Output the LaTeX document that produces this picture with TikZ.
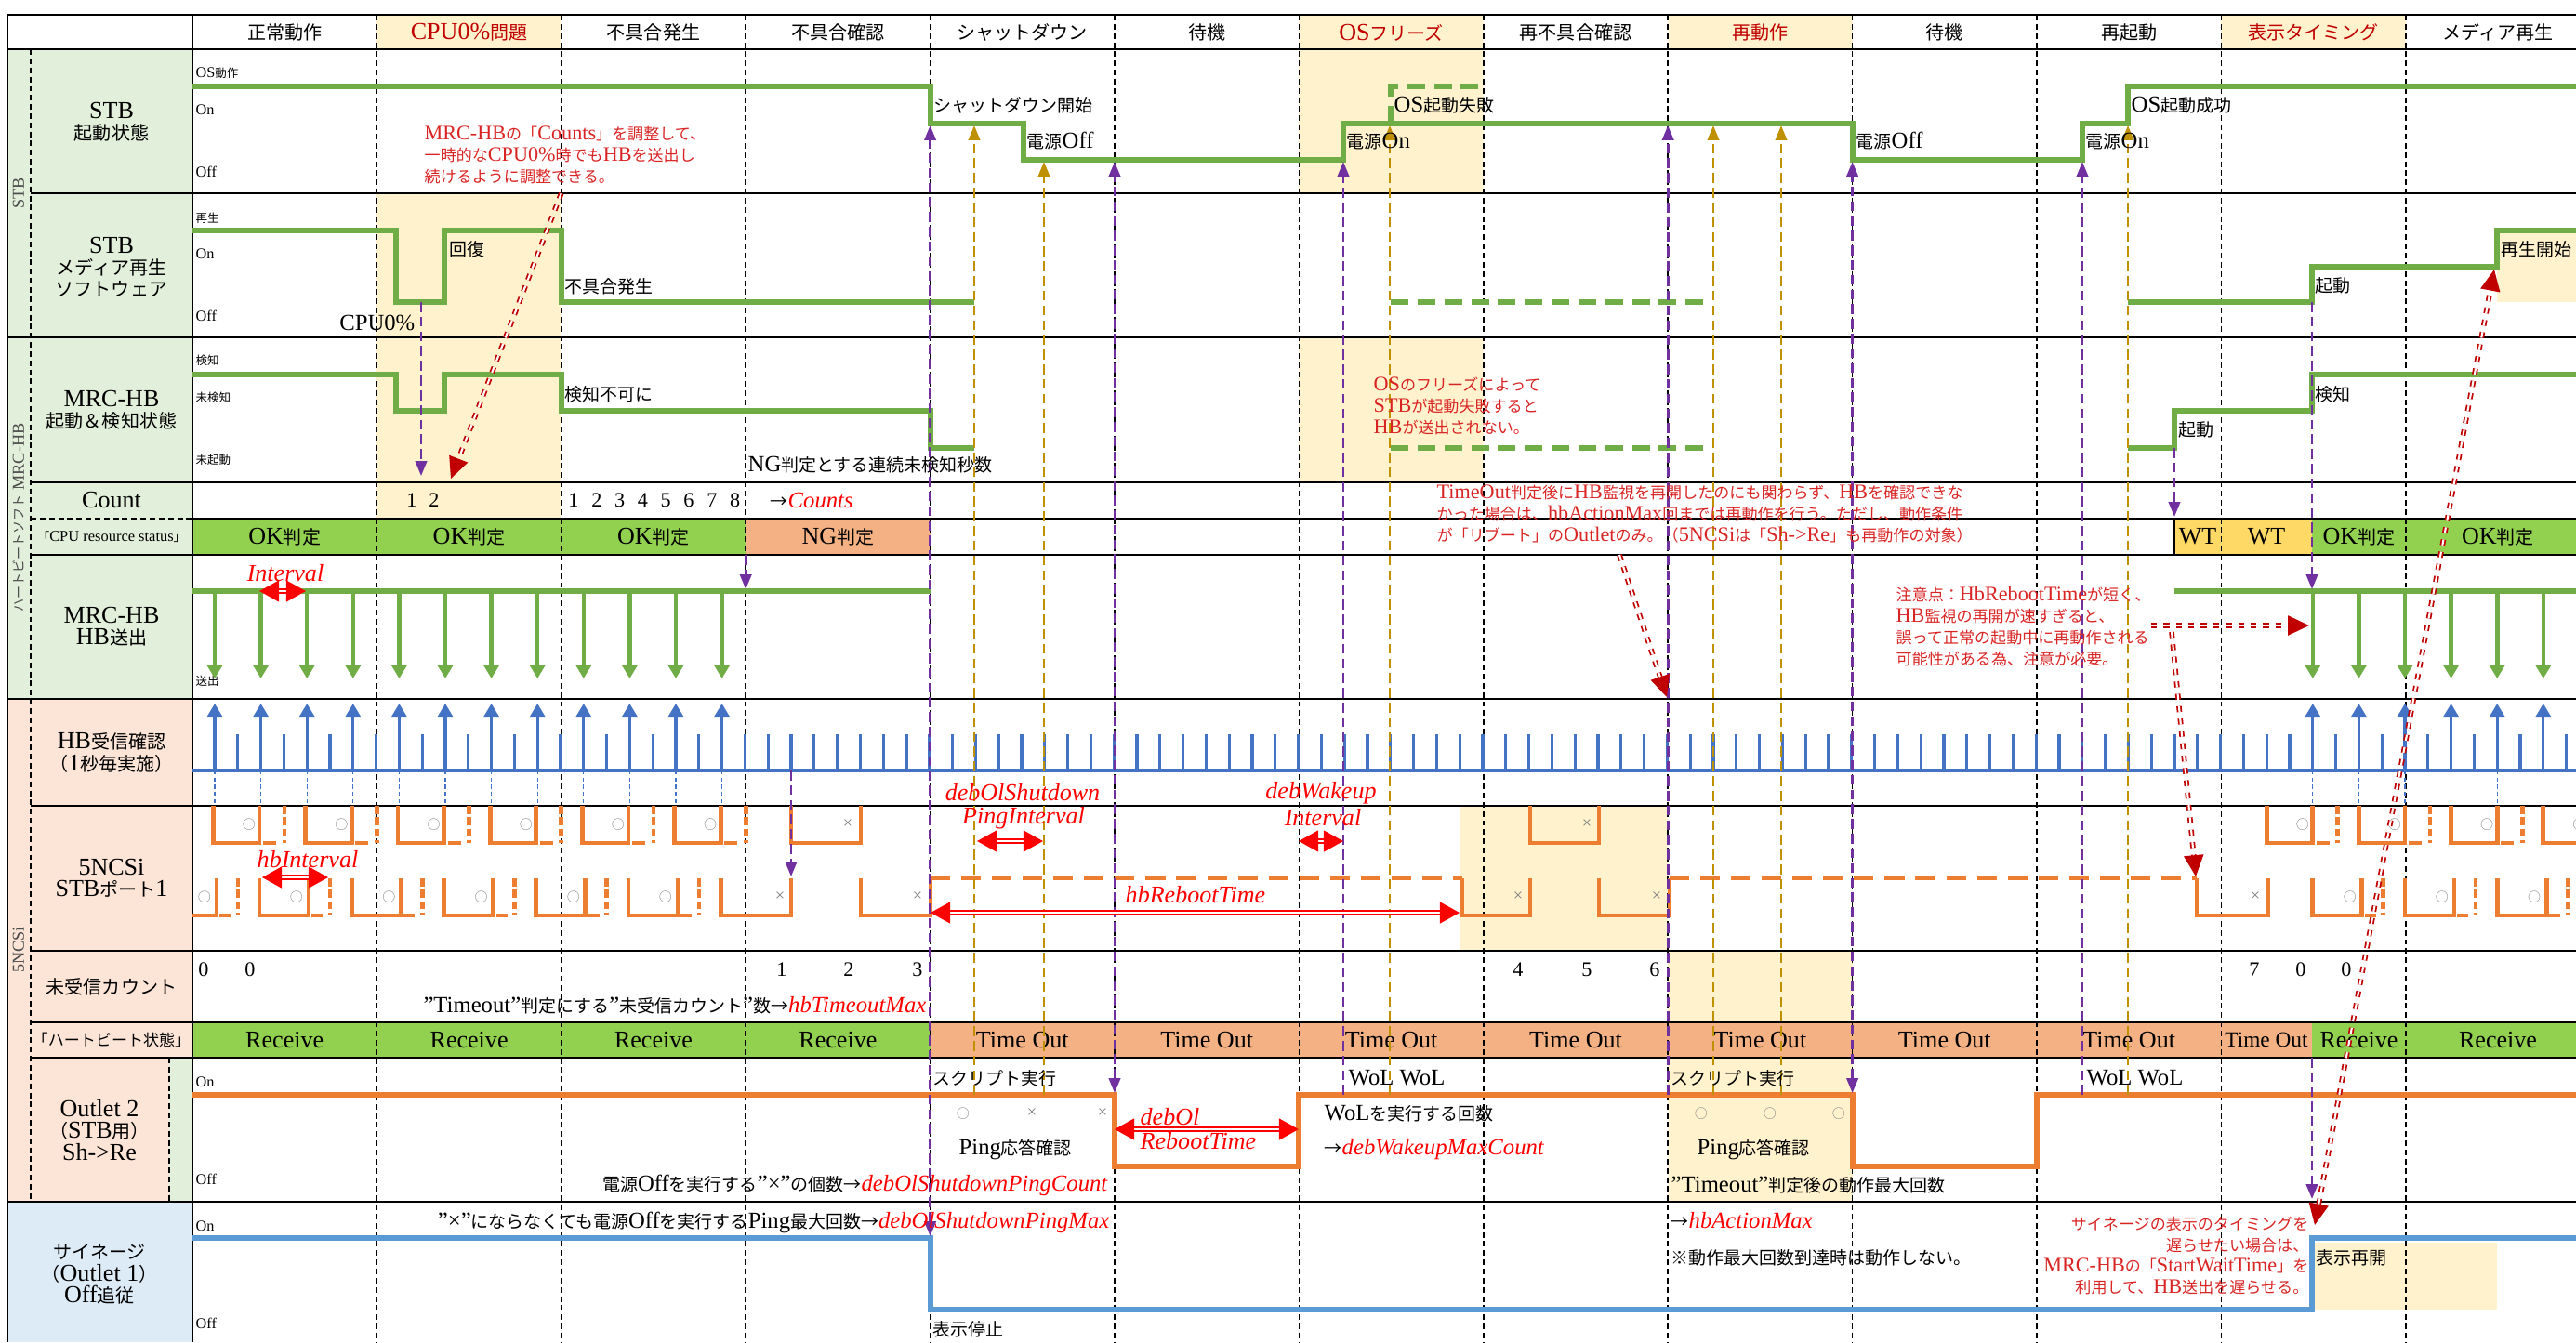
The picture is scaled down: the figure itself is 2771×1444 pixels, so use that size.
\documentclass[tikz,border=0pt]{standalone}
\usepackage{fontspec}
\setmainfont{Liberation Serif}[Scale=1.3]
\newfontfamily\jpfont{Noto Sans CJK JP}
\usetikzlibrary{arrows.meta}

% Japanese characters go to the CJK face, the rest stays serif
\ifdefined\newXeTeXintercharclass
  \newXeTeXintercharclass\jpclass
\else
  \chardef\jpclass=10
\fi
\newcount\jpchar
\newcommand\jprange[2]{\jpchar=#1\relax
  \loop\ifnum\jpchar<#2\relax
    \XeTeXcharclass\jpchar=\jpclass
    \advance\jpchar by 1
  \repeat}
\jprange{"3000}{"3100}
\jprange{"4E00}{"A000}
\jprange{"FF00}{"FFF0}
\XeTeXcharclass"2192=\jpclass
\XeTeXcharclass"25CB=\jpclass
\XeTeXcharclass"203B=\jpclass
\XeTeXinterchartoks 0 \jpclass={\jpfont}
\XeTeXinterchartoks 4095 \jpclass={\jpfont}
\XeTeXinterchartoks \jpclass 0={\rmfamily}
\XeTeXinterchartoks \jpclass 4095={\rmfamily}
\XeTeXinterchartokenstate=1

\definecolor{sgreen}{HTML}{70AD47}
\definecolor{sorange}{HTML}{ED7D31}
\definecolor{tickblue}{HTML}{4472C4}
\definecolor{signblue}{HTML}{5B9BD5}
\definecolor{evpurple}{HTML}{7030A0}
\definecolor{evgold}{HTML}{BF9000}
\definecolor{okgreen}{HTML}{92D050}
\definecolor{ngorange}{HTML}{F4B183}
\definecolor{wtyellow}{HTML}{FFD966}
\definecolor{paleyellow}{HTML}{FFF2CC}
\definecolor{grpgreen}{HTML}{E2EFDA}
\definecolor{grppeach}{HTML}{FCE4D6}
\definecolor{grpblue}{HTML}{DDEBF7}
\definecolor{hintred}{HTML}{C00000}
\definecolor{notered}{HTML}{D92424}
\definecolor{markgray}{HTML}{7F7F7F}

% parameter names
\newcommand\prm[1]{{\rmfamily\itshape\color{red}#1}}

\tikzset{
  hdr/.style={font=\fontsize{5.7pt}{6.6pt}\selectfont, inner sep=0pt},
  lbl/.style={font=\fontsize{5.7pt}{6.6pt}\selectfont, align=center, inner sep=0pt},
  grp/.style={font=\fontsize{4pt}{4.5pt}\selectfont, text=black!70, rotate=90, inner sep=0pt},
  lvl/.style={font=\fontsize{3.55pt}{4pt}\selectfont, anchor=west, inner sep=0pt},
  info/.style={font=\fontsize{5.4pt}{6.4pt}\selectfont, anchor=west, inner sep=0pt},
  note/.style={font=\fontsize{4.85pt}{6.5pt}\selectfont, text=notered, align=left, anchor=west, inner sep=0pt},
  num/.style={font=\fontsize{4.85pt}{5.5pt}\selectfont, inner sep=0pt},
  pingmark/.style={font=\fontsize{4pt}{4.5pt}\selectfont, text=markgray, inner sep=0pt},
  cell/.style={font=\fontsize{5.7pt}{6.6pt}\selectfont, inner sep=0pt},
  prmlbl/.style={font=\fontsize{5.7pt}{6.6pt}\selectfont, inner sep=0pt},
  rowline/.style={draw=black, line width=0.7pt},
  coldash/.style={draw=black, line width=0.45pt, dash pattern=on 1.7pt off 1.1pt},
  stbline/.style={draw=sgreen, line width=1.7pt},
  stbdash/.style={stbline, dash pattern=on 5.4pt off 2.8pt},
  hbsend/.style={draw=sgreen, line width=1.3pt, -{Triangle[length=4pt,width=4.5pt]}},
  rtick/.style={draw=tickblue, line width=0.9pt},
  hbrecv/.style={rtick, -{Triangle[length=4pt,width=4.5pt]}},
  link/.style={draw=tickblue, line width=0.35pt, dash pattern=on 1.2pt off 1pt},
  pulse/.style={draw=sorange, line width=1.4pt},
  pulsetail/.style={pulse, dash pattern=on 2.5pt off 1pt},
  pulsedash/.style={pulse, dash pattern=on 6pt off 3.4pt},
  outlet/.style={draw=sorange, line width=1.7pt},
  signage/.style={draw=signblue, line width=1.7pt},
  evp/.style={draw=evpurple, line width=0.75pt, dash pattern=on 3pt off 1.5pt},
  evg/.style={draw=evgold, line width=0.75pt, dash pattern=on 3pt off 1.5pt},
  evtip/.style={-{Triangle[length=4.5pt,width=3.5pt]}},
  evtips/.style={{Triangle[length=4.5pt,width=3.5pt]}-{Triangle[length=4.5pt,width=3.5pt]}},
  span/.style={draw=red, line width=0.55pt, double=white, double distance=0.7pt,
    {Triangle[length=6pt,width=6.5pt]}-{Triangle[length=6pt,width=6.5pt]}},
  hint/.style={draw=hintred, line width=0.5pt, double=white, double distance=0.6pt,
    dash pattern=on 1.8pt off 2pt, -{Triangle[length=6.5pt,width=6pt]}},
  hints/.style={hint, {Triangle[length=6.5pt,width=6pt]}-{Triangle[length=6.5pt,width=6pt]}},
}

\begin{document}
\begin{tikzpicture}[x=0.01cm, y=-0.01cm]
	\useasboundingbox (0,0) rectangle (2771,1444);
	\clip (0,0) rectangle (2771,1444);
	
	% label column
	\fill[grpgreen] (8,53) rectangle (207,752);
	\fill[grppeach] (8,752) rectangle (207,1293);
	\fill[grpgreen] (182,1138) rectangle (207,1293);
	\fill[grpblue] (8,1293) rectangle (207,1444);
	
	% highlighted phases
	\foreach \i in {1,6,8,11}
		\fill[paleyellow] ({207+198.4*\i},16) rectangle ({405.4+198.4*\i},53);
	\fill[paleyellow] (405.4,208) rectangle (603.8,558);
	\fill[paleyellow] (1397.4,53) rectangle (1595.8,208);
	\fill[paleyellow] (1397.4,363) rectangle (1595.8,519);
	\fill[paleyellow] (1570,867) rectangle (1794.2,1023);
	\fill[paleyellow] (1794.2,1023) rectangle (1992.6,1100);
	\fill[paleyellow] (1794.2,1138) rectangle (1992.6,1293);
	\fill[paleyellow] (2686,248) rectangle (2771,325);
	\fill[paleyellow] (2487,1337) rectangle (2686,1410);
	
	% CPU resource status
	\foreach \i in {0,1,2} {
		\fill[okgreen] ({207+198.4*\i},558) rectangle ({405.4+198.4*\i},597);
		\node[cell] (ok\i) at ({306.2+198.4*\i},577.5) {OK判定};
	}
	\fill[ngorange] (802.2,558) rectangle (1000.6,597);
	\node[cell] (ng) at (901.4,577.5) {NG判定};
	\fill[wtyellow] (2339,558) rectangle (2487,597);
	\draw[rowline] (2339,558) -- (2339,597);
	\node[cell] (wt1) at (2364,577.5) {WT};
	\node[cell] (wt2) at (2438,577.5) {WT};
	\fill[okgreen] (2487,558) rectangle (2771,597);
	\node[cell] (ok3) at (2537.5,577.5) {OK判定};
	\node[cell] (ok4) at (2687,577.5) {OK判定};
	
	% heartbeat state
	\foreach \i in {0,...,3} {
		\fill[okgreen] ({207+198.4*\i},1100) rectangle ({405.4+198.4*\i},1138);
		\node[cell] (rc\i) at ({306.2+198.4*\i},1119) {Receive};
	}
	\foreach \i in {4,...,10} {
		\fill[ngorange] ({207+198.4*\i},1100) rectangle ({405.4+198.4*\i},1138);
		\node[cell] (to\i) at ({306.2+198.4*\i},1119) {Time Out};
	}
	\fill[ngorange] (2389.4,1100) rectangle (2487,1138);
	\node[cell, font=\fontsize{5.1pt}{6pt}\selectfont] (to11) at (2438,1119) {Time Out};
	\fill[okgreen] (2487,1100) rectangle (2771,1138);
	\node[cell] (rc4) at (2537.5,1119) {Receive};
	\node[cell] (rc5) at (2687,1119) {Receive};
	
	% grid
	\foreach \y in {16,53,363,752,1293}
		\draw[rowline] (8,\y) -- (2771,\y);
	\foreach \y in {208,519,597,867,1023,1100,1138}
		\draw[rowline] (33,\y) -- (2771,\y);
	\draw[rowline] (207,558) -- (2771,558);
	\draw[coldash] (33,558) -- (207,558);
	\draw[rowline] (8,16) -- (8,1444);
	\draw[rowline] (207,16) -- (207,1444);
	\draw[coldash] (33,53) -- (33,1293);
	\draw[coldash] (182,1138) -- (182,1293);
	\foreach \i in {1,...,12}
		\draw[coldash] ({207+198.4*\i},16) -- ({207+198.4*\i},1444);
	
	% phase headers
	\foreach \t/\c [count=\i from 0] in {正常動作/black,CPU0\%問題/hintred,不具合発生/black,不具合確認/black,シャットダウン/black,待機/black,OSフリーズ/hintred,再不具合確認/black,再動作/hintred,待機/black,再起動/black,表示タイミング/hintred,メディア再生/black}
		\node[hdr, text=\c] (hd\i) at ({306.2+198.4*\i},35) {\t};
	
	% row titles
	\node[grp] (g-stb) at (20,208) {STB};
	\node[grp] (g-mrc) at (20,557) {ハートビートソフト MRC-HB};
	\node[grp] (g-ncsi) at (20,1022) {5NCSi};
	\node[lbl] (t-stb) at (120,131) {STB\\起動状態};
	\node[lbl] (t-media) at (120,287) {STB\\メディア再生\\ソフトウェア};
	\node[lbl] (t-mrc) at (120,441) {MRC-HB\\起動＆検知状態};
	\node[lbl] (t-count) at (120,538) {Count};
	\node[lbl, font=\fontsize{3.6pt}{4pt}\selectfont] (t-cpu) at (120,577.5) {「CPU resource status」};
	\node[lbl] (t-send) at (120,674) {MRC-HB\\HB送出};
	\node[lbl] (t-recv) at (120,810) {HB受信確認\\（1秒毎実施）};
	\node[lbl] (t-ncsi) at (120,945) {5NCSi\\STBポート1};
	\node[lbl] (t-miss) at (120,1062) {未受信カウント};
	\node[lbl, font=\fontsize{4.85pt}{5.5pt}\selectfont] (t-hb) at (120,1119) {「ハートビート状態」};
	\node[lbl] (t-out2) at (107,1216) {Outlet 2\\（STB用）\\Sh->Re};
	\node[lbl] (t-sign) at (107,1371) {サイネージ\\（Outlet 1）\\Off追従};
	
	% level marks
	\node[lvl] (lv1) at (210,79) {OS動作};
	\node[lvl] (lv2) at (210,118) {On};
	\node[lvl] (lv3) at (210,185) {Off};
	\node[lvl] (lv4) at (210,235) {再生};
	\node[lvl] (lv5) at (210,273) {On};
	\node[lvl] (lv6) at (210,340) {Off};
	\node[lvl] (lv7) at (210,388) {検知};
	\node[lvl] (lv8) at (210,428) {未検知};
	\node[lvl] (lv9) at (210,495) {未起動};
	\node[lvl] (lv10) at (210,733) {送出};
	\node[lvl] (lv11) at (210,1164) {On};
	\node[lvl] (lv12) at (210,1269) {Off};
	\node[lvl] (lv13) at (210,1319) {On};
	\node[lvl] (lv14) at (210,1424) {Off};
	
	% STB boot state
	\draw[stbline] (207,93) -- (1000.6,93) -- (1000.6,133) -- (1101,133) -- (1101,172) -- (1445,172) -- (1445,133)
		-- (1992.6,133) -- (1992.6,172) -- (2240,172) -- (2240,133) -- (2289,133) -- (2289,93) -- (2771,93);
	\draw[stbdash] (1496,133) -- (1496,93) -- (1595.8,93);
	
	% media player
	\draw[stbline] (207,248) -- (426,248) -- (426,325) -- (478,325) -- (478,248) -- (603.8,248) -- (603.8,325) -- (1048,325);
	\draw[stbdash] (1496,325) -- (1837,325);
	\draw[stbline] (2289,325) -- (2487,325) -- (2487,287) -- (2686,287) -- (2686,248) -- (2771,248);
	
	% MRC-HB state
	\draw[stbline] (207,403) -- (426,403) -- (426,442) -- (478,442) -- (478,403) -- (603.8,403) -- (603.8,442)
		-- (1000.6,442) -- (1000.6,482) -- (1048,482);
	\draw[stbdash] (1496,482) -- (1837,482);
	\draw[stbline] (2289,482) -- (2339,482) -- (2339,442) -- (2487,442) -- (2487,403) -- (2771,403);
	
	% HB sending
	\draw[stbline] (207,636) -- (1000.6,636);
	\foreach \k in {0,...,11}
		\draw[hbsend] ({231+49.6*\k},636) -- ({231+49.6*\k},730);
	\draw[stbline] (2339,636) -- (2771,636);
	\foreach \k in {0,...,6}
		\draw[hbsend] ({2487.8+49.6*\k},636) -- ({2487.8+49.6*\k},730);
	
	% HB receive check, once a second
	\draw[rtick, line width=1.4pt] (207,829) -- (2771,829);
	\foreach \k in {0,...,102}
		\draw[rtick] ({231+24.8*\k},829) -- ({231+24.8*\k},790);
	\foreach \k in {0,2,...,22} {
		\draw[hbrecv] ({231+24.8*\k},829) -- ({231+24.8*\k},757);
		\draw[link] ({231+24.8*\k},829) -- ({231+24.8*\k},867);
	}
	\foreach \k in {91,93,...,103} {
		\draw[hbrecv] ({231+24.8*\k},829) -- ({231+24.8*\k},757);
		\draw[link] ({231+24.8*\k},829) -- ({231+24.8*\k},867);
	}
	
	% 5NCSi port 1: HB windows
	\foreach \a [count=\n] in {279,378.4,477.6,576.8,676,775.2,2487.8,2587,2686.2,2785.4} {
		\draw[pulse] ({\a-49.6},867) -- ({\a-49.6},907) -- (\a,907) -- (\a,867);
		\draw[pulse] ({\a+4},907) -- ({\a+18},907);
		\draw[pulsetail] ({\a+27},867) -- ({\a+27},907);
		\node[pingmark] (up\n) at ({\a-11},887) {○};
	}
	% 5NCSi port 1: ping answers
	\foreach \a [count=\n] in {279,378.4,477.6,576.8,676,2487.8,2587,2686.2} {
		\draw[pulse] (\a,945) -- (\a,985) -- ({\a+53},985) -- ({\a+53},945);
		\draw[pulse] ({\a+56},985) -- ({\a+68},985);
		\draw[pulsetail] ({\a+76},945) -- ({\a+76},985);
		\node[pingmark] (lo\n) at ({\a+40},965) {○};
	}
	\draw[pulse] (207,985) -- (233,985) -- (233,945);
	\draw[pulse] (236,985) -- (248,985);
	\draw[pulsetail] (256,945) -- (256,985);
	\node[pingmark] (lo0) at (220,965) {○};
	% missing answers
	\draw[pulse] (775.2,945) -- (775.2,985) -- (851,985) -- (851,945);
	\node[pingmark] (x1) at (839,965) {×};
	\draw[pulse] (851,867) -- (851,907) -- (926,907) -- (926,867);
	\node[pingmark] (x2) at (912,887) {×};
	\draw[pulse] (926,945) -- (926,985) -- (1001,985) -- (1001,945);
	\node[pingmark] (x3) at (987,965) {×};
	\draw[pulsedash] (1001,945) -- (1573,945);
	\draw[pulse] (1573,945) -- (1573,985) -- (1646,985) -- (1646,945);
	\node[pingmark] (x4) at (1633,965) {×};
	\draw[pulse] (1646,867) -- (1646,907) -- (1720,907) -- (1720,867);
	\node[pingmark] (x5) at (1707,887) {×};
	\draw[pulse] (1720,945) -- (1720,985) -- (1796,985) -- (1796,945);
	\node[pingmark] (x6) at (1782,965) {×};
	\draw[pulsedash] (1796,945) -- (2363,945);
	\draw[pulse] (2363,945) -- (2363,985) -- (2440,985) -- (2440,945);
	\node[pingmark] (x7) at (2426,965) {×};
	
	% Outlet 2 and signage
	\draw[outlet] (207,1178) -- (1199,1178) -- (1199,1255) -- (1397.4,1255) -- (1397.4,1178) -- (1992.6,1178)
		-- (1992.6,1255) -- (2191,1255) -- (2191,1178) -- (2771,1178);
	\draw[signage] (207,1332) -- (1000.6,1332) -- (1000.6,1409) -- (2487,1409) -- (2487,1332) -- (2771,1332);
	
	% events
	\draw[evp, evtip] (453,325) -- (453,512);
	\draw[evp, evtip] (802.2,597) -- (802.2,634);
	\draw[evp, evtip] (851,829) -- (851,943);
	\draw[evp, evtips] (1000.6,1330) -- (1000.6,135);
	\draw[evp, evtips] (1199,1176) -- (1199,174);
	\draw[evp, evtip] (1445,1178) -- (1445,174);
	\draw[evp, evtip] (1794.2,1178) -- (1794.2,135);
	\draw[evp, evtips] (1992.6,1176) -- (1992.6,174);
	\draw[evp, evtip] (2240,1178) -- (2240,174);
	\draw[evp, evtip] (2339,482) -- (2339,556);
	\draw[evp, evtip] (2487,325) -- (2487,634);
	\draw[evp, evtip] (2487,1138) -- (2487,1290);
	\draw[evg, evtip] (1048,1178) -- (1048,135);
	\draw[evg, evtip] (1123,1178) -- (1123,174);
	\draw[evg, evtip] (1495,1178) -- (1495,135);
	\draw[evg, evtip] (1843,1178) -- (1843,135);
	\draw[evg, evtip] (1916,1178) -- (1916,135);
	\draw[evg, evtip] (2289,1178) -- (2289,135);
	
	% timing spans
	\draw[span] (279,636) -- (329,636);
	\draw[span] (282,944) -- (353,944);
	\draw[span] (1051,905) -- (1122,905);
	\draw[span] (1397,905) -- (1445,905);
	\draw[span] (1001,982) -- (1570,982);
	\draw[span] (1199,1215) -- (1397,1215);
	\node[prmlbl] (iv) at (307,617) {\prm{Interval}};
	\node[prmlbl] (hbiv) at (331,925) {\prm{hbInterval}};
	\node[prmlbl] (dos1) at (1100,853) {\prm{debOlShutdown}};
	\node[prmlbl] (dos2) at (1101,880) {\prm{PingInterval}};
	\node[prmlbl] (dwk1) at (1421,853) {\prm{debWakeup}};
	\node[prmlbl] (dwk2) at (1423,880) {\prm{Interval}};
	\node[prmlbl] (hbrt) at (1286,963) {\prm{hbRebootTime}};
	\node[prmlbl, anchor=west] (dor1) at (1226,1202) {\prm{debOl}};
	\node[prmlbl, anchor=west] (dor2) at (1226,1228) {\prm{RebootTime}};
	
	% signal texts
	\node[info] (s1) at (1004,113) {シャットダウン開始};
	\node[info] (s2) at (1104,152) {電源Off};
	\node[info] (s3) at (1448,152) {電源On};
	\node[info] (s4) at (1499,113) {OS起動失敗};
	\node[info] (s5) at (1996,152) {電源Off};
	\node[info] (s6) at (2243,152) {電源On};
	\node[info] (s7) at (2292,113) {OS起動成功};
	\node[info, anchor=east] (m1) at (447,347) {CPU0\%};
	\node[info] (m2) at (483,268) {回復};
	\node[info] (m3) at (607,308) {不具合発生};
	\node[info] (m4) at (2490,307) {起動};
	\node[info] (m5) at (2690,268) {再生開始};
	\node[info] (h1) at (607,424) {検知不可に};
	\node[info] (h2) at (804,500) {NG判定とする連続未検知秒数};
	\node[info] (h3) at (2343,462) {起動};
	\node[info] (h4) at (2490,424) {検知};
	
	% counters
	\node[num] (c1) at (443,538) {1};
	\node[num] (c2) at (467,538) {2};
	\foreach \k in {1,...,8}
		\node[num] (n\k) at ({592.2+24.8*\k},538) {\k};
	\node[info] (cnt) at (828,538) {→\prm{Counts}};
	\foreach \x/\v [count=\n] in {219/0,269/0,841/1,913/2,987/3,1633/4,1707/5,1780/6,2425/7,2475/0,2524/0}
		\node[num] (u\n) at (\x,1043) {\v};
	\node[info, anchor=east] (tmax) at (997,1082) {”Timeout”判定にする”未受信カウント”数→\prm{hbTimeoutMax}};
	
	% outlet texts
	\node[info] (o1) at (1003,1160) {スクリプト実行};
	\node[pingmark] (o2) at (1036,1198) {○};
	\node[pingmark] (o3) at (1110,1198) {×};
	\node[pingmark] (o4) at (1186,1198) {×};
	\node[info] (o5) at (1031,1237) {Ping応答確認};
	\node[info] (o6) at (1450,1160) {WoL WoL};
	\node[info] (o7) at (1424,1198) {WoLを実行する回数};
	\node[info] (o8) at (1424,1237) {→\prm{debWakeupMaxCount}};
	\node[info, anchor=east] (o9) at (1192,1275) {電源Offを実行する”×”の個数→\prm{debOlShutdownPingCount}};
	\node[info] (o10) at (1797,1160) {スクリプト実行};
	\node[pingmark] (o11) at (1830,1198) {○};
	\node[pingmark] (o12) at (1904,1198) {○};
	\node[pingmark] (o13) at (1978,1198) {○};
	\node[info] (o14) at (1825,1237) {Ping応答確認};
	\node[info] (o15) at (1797,1275) {”Timeout”判定後の動作最大回数};
	\node[info] (o16) at (2244,1160) {WoL WoL};
	
	% signage texts
	\node[info, anchor=east] (d1) at (1194,1315) {”×”にならなくても電源Offを実行するPing最大回数→\prm{debOlShutdownPingMax}};
	\node[info] (d2) at (1003,1430) {表示停止};
	\node[info] (d3) at (1797,1313) {→\prm{hbActionMax}};
	\node[info] (d4) at (1797,1353) {※動作最大回数到達時は動作しない。};
	\node[info] (d5) at (2491,1353) {表示再開};
	
	% notes
	\node[note] (nt1) at (456,167) {MRC-HBの「Counts」を調整して、\\一時的なCPU0\%時でもHBを送出し\\続けるように調整できる。};
	\node[note] (nt2) at (1477,437) {OSのフリーズによって\\STBが起動失敗すると\\HBが送出されない。};
	\node[note] (nt3) at (1545,553) {TimeOut判定後にHB監視を再開したのにも関わらず、HBを確認できな\\かった場合は、hbActionMax回までは再動作を行う。ただし、動作条件\\が「リブート」のOutletのみ。（5NCSiは「Sh->Re」も再動作の対象）};
	\node[note] (nt4) at (2039,674) {注意点：HbRebootTimeが短く、\\HB監視の再開が速すぎると、\\誤って正常の起動中に再動作される\\可能性がある為、注意が必要。};
	\node[note, anchor=east, align=right] (nt5) at (2484,1351) {サイネージの表示のタイミングを\\遅らせたい場合は、\\MRC-HBの「StartWaitTime」を\\利用して、HB送出を遅らせる。};
	
	% hints
	\draw[hint] (603.8,208) -- (485,515);
	\draw[hint] (1742,597) -- (1793,750);
	\draw[hint] (2314,673) -- (2484,673);
	\draw[hint] (2336,680) -- (2362,943);
	\draw[hints] (2490,1318) -- (2683,290);
	
\end{tikzpicture}
\end{document}
